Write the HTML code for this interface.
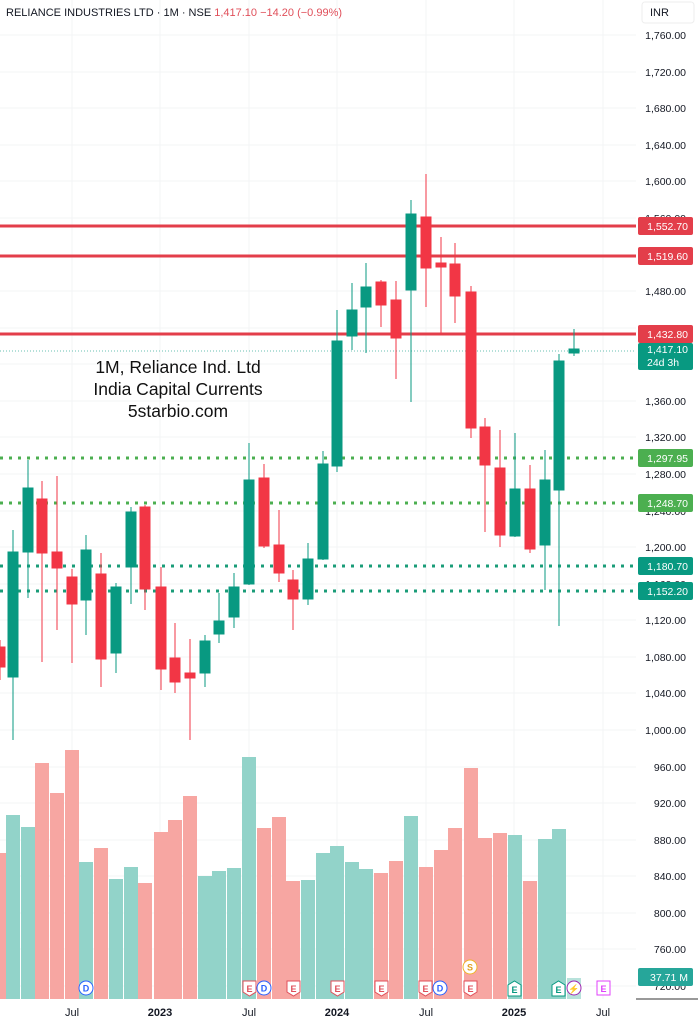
<!DOCTYPE html>
<html><head><meta charset="utf-8"><style>
html,body{margin:0;padding:0;background:#fff;width:698px;height:1024px;overflow:hidden}
svg{display:block;font-family:"Liberation Sans",sans-serif}
</style></head><body>
<svg width="698" height="1024" viewBox="0 0 698 1024" xmlns="http://www.w3.org/2000/svg">
<g stroke="#f3f4f6" stroke-width="1">
<line x1="72" y1="0" x2="72" y2="999"/><line x1="160" y1="0" x2="160" y2="999"/><line x1="249" y1="0" x2="249" y2="999"/><line x1="337" y1="0" x2="337" y2="999"/><line x1="426" y1="0" x2="426" y2="999"/><line x1="514" y1="0" x2="514" y2="999"/><line x1="603" y1="0" x2="603" y2="999"/>
<line x1="0" y1="35" x2="636" y2="35"/><line x1="0" y1="72" x2="636" y2="72"/><line x1="0" y1="108" x2="636" y2="108"/><line x1="0" y1="145" x2="636" y2="145"/><line x1="0" y1="181" x2="636" y2="181"/><line x1="0" y1="218" x2="636" y2="218"/><line x1="0" y1="255" x2="636" y2="255"/><line x1="0" y1="291" x2="636" y2="291"/><line x1="0" y1="328" x2="636" y2="328"/><line x1="0" y1="364" x2="636" y2="364"/><line x1="0" y1="401" x2="636" y2="401"/><line x1="0" y1="437" x2="636" y2="437"/><line x1="0" y1="474" x2="636" y2="474"/><line x1="0" y1="511" x2="636" y2="511"/><line x1="0" y1="547" x2="636" y2="547"/><line x1="0" y1="584" x2="636" y2="584"/><line x1="0" y1="620" x2="636" y2="620"/><line x1="0" y1="657" x2="636" y2="657"/><line x1="0" y1="693" x2="636" y2="693"/><line x1="0" y1="730" x2="636" y2="730"/><line x1="0" y1="767" x2="636" y2="767"/><line x1="0" y1="803" x2="636" y2="803"/><line x1="0" y1="840" x2="636" y2="840"/><line x1="0" y1="876" x2="636" y2="876"/><line x1="0" y1="913" x2="636" y2="913"/><line x1="0" y1="949" x2="636" y2="949"/><line x1="0" y1="986" x2="636" y2="986"/>
</g>
<g>
<rect x="-7" y="853" width="14" height="146" fill="#f7a6a2"/>
<rect x="6" y="815" width="14" height="184" fill="#92d3c9"/>
<rect x="21" y="827" width="14" height="172" fill="#92d3c9"/>
<rect x="35" y="763" width="14" height="236" fill="#f7a6a2"/>
<rect x="50" y="793" width="14" height="206" fill="#f7a6a2"/>
<rect x="65" y="750" width="14" height="249" fill="#f7a6a2"/>
<rect x="79" y="862" width="14" height="137" fill="#92d3c9"/>
<rect x="94" y="848" width="14" height="151" fill="#f7a6a2"/>
<rect x="109" y="879" width="14" height="120" fill="#92d3c9"/>
<rect x="124" y="867" width="14" height="132" fill="#92d3c9"/>
<rect x="138" y="883" width="14" height="116" fill="#f7a6a2"/>
<rect x="154" y="832" width="14" height="167" fill="#f7a6a2"/>
<rect x="168" y="820" width="14" height="179" fill="#f7a6a2"/>
<rect x="183" y="796" width="14" height="203" fill="#f7a6a2"/>
<rect x="198" y="876" width="14" height="123" fill="#92d3c9"/>
<rect x="212" y="871" width="14" height="128" fill="#92d3c9"/>
<rect x="227" y="868" width="14" height="131" fill="#92d3c9"/>
<rect x="242" y="757" width="14" height="242" fill="#92d3c9"/>
<rect x="257" y="828" width="14" height="171" fill="#f7a6a2"/>
<rect x="272" y="817" width="14" height="182" fill="#f7a6a2"/>
<rect x="286" y="881" width="14" height="118" fill="#f7a6a2"/>
<rect x="301" y="880" width="14" height="119" fill="#92d3c9"/>
<rect x="316" y="853" width="14" height="146" fill="#92d3c9"/>
<rect x="330" y="846" width="14" height="153" fill="#92d3c9"/>
<rect x="345" y="862" width="14" height="137" fill="#92d3c9"/>
<rect x="359" y="869" width="14" height="130" fill="#92d3c9"/>
<rect x="374" y="873" width="14" height="126" fill="#f7a6a2"/>
<rect x="389" y="861" width="14" height="138" fill="#f7a6a2"/>
<rect x="404" y="816" width="14" height="183" fill="#92d3c9"/>
<rect x="419" y="867" width="14" height="132" fill="#f7a6a2"/>
<rect x="434" y="850" width="14" height="149" fill="#f7a6a2"/>
<rect x="448" y="828" width="14" height="171" fill="#f7a6a2"/>
<rect x="464" y="768" width="14" height="231" fill="#f7a6a2"/>
<rect x="478" y="838" width="14" height="161" fill="#f7a6a2"/>
<rect x="493" y="833" width="14" height="166" fill="#f7a6a2"/>
<rect x="508" y="835" width="14" height="164" fill="#92d3c9"/>
<rect x="523" y="881" width="14" height="118" fill="#f7a6a2"/>
<rect x="538" y="839" width="14" height="160" fill="#92d3c9"/>
<rect x="552" y="829" width="14" height="170" fill="#92d3c9"/>
<rect x="567" y="978" width="14" height="21" fill="#b8e2db"/>
</g>
<g stroke="#4caf50" stroke-width="3" stroke-dasharray="3 6">
<line x1="0" y1="458" x2="636" y2="458"/><line x1="0" y1="503" x2="636" y2="503"/>
</g>
<g stroke="#1a9c78" stroke-width="3" stroke-dasharray="3 6">
<line x1="0" y1="566" x2="636" y2="566"/><line x1="0" y1="591" x2="636" y2="591"/>
</g>
<line x1="0" y1="351" x2="636" y2="351" stroke="#089981" stroke-width="1" stroke-dasharray="1 2" opacity="0.6"/>
<g stroke="#e33e4a" stroke-width="3">
<line x1="0" y1="226" x2="636" y2="226"/><line x1="0" y1="256" x2="636" y2="256"/><line x1="0" y1="334" x2="636" y2="334"/>
</g>
<g>
<g stroke="#f23645" fill="#f23645">
<line x1="0" y1="640" x2="0" y2="680"/><rect x="-5" y="647" width="10" height="20"/>
<line x1="42" y1="481" x2="42" y2="662"/><rect x="37" y="499" width="10" height="54"/>
<line x1="57" y1="476" x2="57" y2="630"/><rect x="52" y="552" width="10" height="16"/>
<line x1="72" y1="569" x2="72" y2="663"/><rect x="67" y="577" width="10" height="27"/>
<line x1="101" y1="553" x2="101" y2="687"/><rect x="96" y="574" width="10" height="85"/>
<line x1="145" y1="505" x2="145" y2="610"/><rect x="140" y="507" width="10" height="82"/>
<line x1="161" y1="567" x2="161" y2="690"/><rect x="156" y="587" width="10" height="82"/>
<line x1="175" y1="623" x2="175" y2="693"/><rect x="170" y="658" width="10" height="24"/>
<line x1="190" y1="639" x2="190" y2="740"/><rect x="185" y="673" width="10" height="5"/>
<line x1="264" y1="464" x2="264" y2="548"/><rect x="259" y="478" width="10" height="68"/>
<line x1="279" y1="510" x2="279" y2="582"/><rect x="274" y="545" width="10" height="28"/>
<line x1="293" y1="570" x2="293" y2="630"/><rect x="288" y="580" width="10" height="19"/>
<line x1="381" y1="280" x2="381" y2="327"/><rect x="376" y="282" width="10" height="23"/>
<line x1="396" y1="281" x2="396" y2="379"/><rect x="391" y="300" width="10" height="38"/>
<line x1="426" y1="174" x2="426" y2="307"/><rect x="421" y="217" width="10" height="51"/>
<line x1="441" y1="237" x2="441" y2="334"/><rect x="436" y="263" width="10" height="4"/>
<line x1="455" y1="243" x2="455" y2="323"/><rect x="450" y="264" width="10" height="32"/>
<line x1="471" y1="286" x2="471" y2="438"/><rect x="466" y="292" width="10" height="136"/>
<line x1="485" y1="418" x2="485" y2="532"/><rect x="480" y="427" width="10" height="38"/>
<line x1="500" y1="430" x2="500" y2="547"/><rect x="495" y="468" width="10" height="67"/>
<line x1="530" y1="465" x2="530" y2="553"/><rect x="525" y="489" width="10" height="60"/>
</g>
<g stroke="#089981" fill="#089981">
<line x1="13" y1="530" x2="13" y2="740"/><rect x="8" y="552" width="10" height="125"/>
<line x1="28" y1="460" x2="28" y2="598"/><rect x="23" y="488" width="10" height="64"/>
<line x1="86" y1="535" x2="86" y2="635"/><rect x="81" y="550" width="10" height="50"/>
<line x1="116" y1="583" x2="116" y2="673"/><rect x="111" y="587" width="10" height="66"/>
<line x1="131" y1="507" x2="131" y2="604"/><rect x="126" y="512" width="10" height="55"/>
<line x1="205" y1="635" x2="205" y2="687"/><rect x="200" y="641" width="10" height="32"/>
<line x1="219" y1="593" x2="219" y2="643"/><rect x="214" y="621" width="10" height="13"/>
<line x1="234" y1="573" x2="234" y2="628"/><rect x="229" y="587" width="10" height="30"/>
<line x1="249" y1="443" x2="249" y2="585"/><rect x="244" y="480" width="10" height="104"/>
<line x1="308" y1="543" x2="308" y2="605"/><rect x="303" y="559" width="10" height="40"/>
<line x1="323" y1="451" x2="323" y2="560"/><rect x="318" y="464" width="10" height="95"/>
<line x1="337" y1="310" x2="337" y2="472"/><rect x="332" y="341" width="10" height="125"/>
<line x1="352" y1="283" x2="352" y2="350"/><rect x="347" y="310" width="10" height="26"/>
<line x1="366" y1="263" x2="366" y2="353"/><rect x="361" y="287" width="10" height="20"/>
<line x1="411" y1="200" x2="411" y2="402"/><rect x="406" y="214" width="10" height="76"/>
<line x1="515" y1="433" x2="515" y2="537"/><rect x="510" y="489" width="10" height="47"/>
<line x1="545" y1="450" x2="545" y2="590"/><rect x="540" y="480" width="10" height="65"/>
<line x1="559" y1="354" x2="559" y2="626"/><rect x="554" y="361" width="10" height="129"/>
<line x1="574" y1="329" x2="574" y2="356"/><rect x="569" y="349" width="10" height="4"/>
</g>
</g>
<g font-size="17.5" fill="#111" text-anchor="middle">
<text x="178" y="373">1M, Reliance Ind. Ltd</text>
<text x="178" y="395">India Capital Currents</text>
<text x="178" y="417">5starbio.com</text>
</g>
<text x="6" y="16" font-size="11" fill="#131722">RELIANCE INDUSTRIES LTD · 1M · NSE <tspan fill="#e04f5a">1,417.10  −14.20 (−0.99%)</tspan></text>
<rect x="642" y="2" width="52" height="21" rx="3" fill="#fff" stroke="#eee"/>
<text x="650" y="16" font-size="11" fill="#131722">INR</text>
<g font-size="10.5" fill="#131722" text-anchor="end">
<text x="686" y="39">1,760.00</text><text x="686" y="76">1,720.00</text><text x="686" y="112">1,680.00</text><text x="686" y="149">1,640.00</text><text x="686" y="185">1,600.00</text><text x="686" y="222">1,560.00</text><text x="686" y="259">1,520.00</text><text x="686" y="295">1,480.00</text><text x="686" y="332">1,440.00</text><text x="686" y="405">1,360.00</text><text x="686" y="441">1,320.00</text><text x="686" y="478">1,280.00</text><text x="686" y="515">1,240.00</text><text x="686" y="551">1,200.00</text><text x="686" y="588">1,160.00</text><text x="686" y="624">1,120.00</text><text x="686" y="661">1,080.00</text><text x="686" y="697">1,040.00</text><text x="686" y="734">1,000.00</text><text x="686" y="771">960.00</text><text x="686" y="807">920.00</text><text x="686" y="844">880.00</text><text x="686" y="880">840.00</text><text x="686" y="917">800.00</text><text x="686" y="953">760.00</text><text x="686" y="990">720.00</text>
</g>
<g font-size="10.5" fill="#fff" text-anchor="end">
<rect x="638" y="217" width="55" height="18" rx="2" fill="#e33e4a"/><text x="688" y="230">1,552.70</text>
<rect x="638" y="247" width="55" height="18" rx="2" fill="#e33e4a"/><text x="688" y="260">1,519.60</text>
<rect x="638" y="325" width="55" height="18" rx="2" fill="#e33e4a"/><text x="688" y="338">1,432.80</text>
<rect x="638" y="343" width="55" height="27" rx="2" fill="#089981"/><text x="688" y="353">1,417.10</text><text x="647" y="366" text-anchor="start">24d 3h</text>
<rect x="638" y="449" width="55" height="18" rx="2" fill="#4caf50"/><text x="688" y="462">1,297.95</text>
<rect x="638" y="494" width="55" height="18" rx="2" fill="#4caf50"/><text x="688" y="507">1,248.70</text>
<rect x="638" y="557" width="55" height="18" rx="2" fill="#089981"/><text x="688" y="570">1,180.70</text>
<rect x="638" y="582" width="55" height="18" rx="2" fill="#089981"/><text x="688" y="595">1,152.20</text>
<rect x="638" y="968" width="55" height="18" rx="2" fill="#26a69a"/><text x="688" y="981">37.71 M</text>
</g>
<line x1="636" y1="999" x2="698" y2="999" stroke="#333" stroke-width="1"/>
<g font-size="9" font-weight="bold" text-anchor="middle">
<circle cx="86" cy="988" r="7" fill="#fff" stroke="#2962ff"/><text x="86" y="991.5" fill="#2962ff">D</text>
<circle cx="264" cy="988" r="7" fill="#fff" stroke="#2962ff"/><text x="264" y="991.5" fill="#2962ff">D</text>
<circle cx="440" cy="988" r="7" fill="#fff" stroke="#2962ff"/><text x="440" y="991.5" fill="#2962ff">D</text>
<circle cx="470" cy="967" r="7" fill="#fff" stroke="#f0b429"/><text x="470" y="970.5" fill="#e0a020">S</text>
<g fill="#fff" stroke="#e04f5a"><path d="M243 981h13v11l-6.5 4l-6.5-4z"/><path d="M287 981h13v11l-6.5 4l-6.5-4z"/><path d="M331 981h13v11l-6.5 4l-6.5-4z"/><path d="M375 981h13v11l-6.5 4l-6.5-4z"/><path d="M419 981h13v11l-6.5 4l-6.5-4z"/><path d="M464 981h13v11l-6.5 4l-6.5-4z"/></g>
<text x="249.5" y="992" fill="#e04f5a">E</text><text x="293.5" y="992" fill="#e04f5a">E</text><text x="337.5" y="992" fill="#e04f5a">E</text><text x="381.5" y="992" fill="#e04f5a">E</text><text x="425.5" y="992" fill="#e04f5a">E</text><text x="470.5" y="992" fill="#e04f5a">E</text>
<g fill="#fff" stroke="#089981"><path d="M508 985l6.5-4l6.5 4v11h-13z"/><path d="M552 985l6.5-4l6.5 4v11h-13z"/></g>
<text x="514.5" y="993" fill="#089981">E</text><text x="558.5" y="993" fill="#089981">E</text>
<circle cx="574" cy="988" r="7" fill="#fff" stroke="#9c27b0"/><text x="574" y="992" fill="#9c27b0">⚡</text>
<rect x="597" y="981" width="13" height="14" fill="#fff" stroke="#e040fb"/><text x="603.5" y="992" fill="#e040fb">E</text>
</g>
<g font-size="11" fill="#131722" text-anchor="middle">
<text x="72" y="1016">Jul</text><text x="160" y="1016" font-weight="bold">2023</text><text x="249" y="1016">Jul</text><text x="337" y="1016" font-weight="bold">2024</text><text x="426" y="1016">Jul</text><text x="514" y="1016" font-weight="bold">2025</text><text x="603" y="1016">Jul</text>
</g>
</svg>
</body></html>
